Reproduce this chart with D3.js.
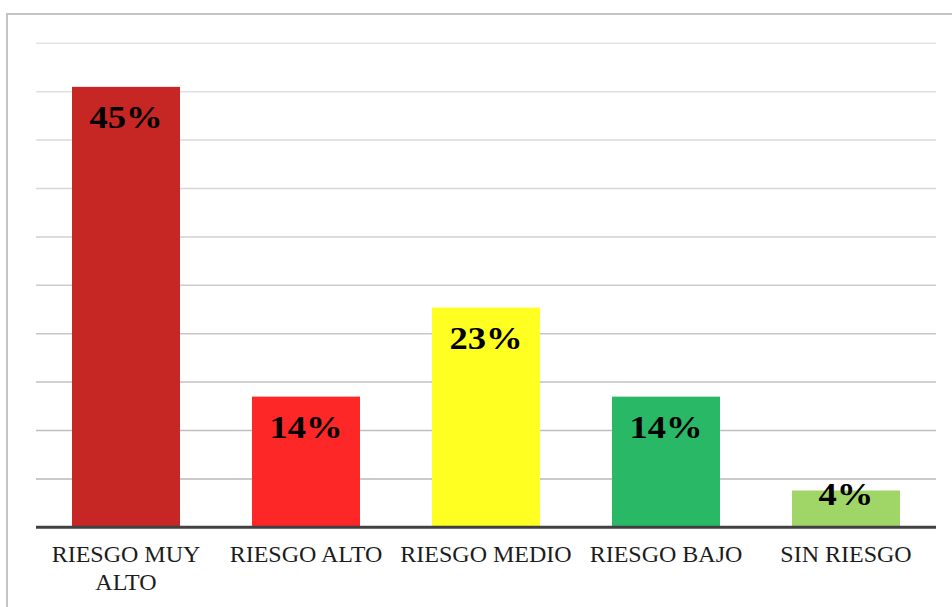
<!DOCTYPE html>
<html lang="es">
<head>
<meta charset="UTF-8" />
<title>Nivel de riesgo</title>
<style>
  html, body {
    margin: 0;
    padding: 0;
    background: #fff;
    overflow: hidden;
  }
  svg {
    display: block;
    font-family: "Liberation Serif", "Times New Roman", serif;
  }
  .grid line {
    stroke-width: 1.5px;
  }
  .cat text {
    font-size: 24px;
    fill: #1c1c1c;
  }
  .val {
    font-size: 31px;
    font-weight: bold;
    fill: #000;
  }
</style>
</head>
<body>
<svg width="952" height="607"></svg>

<script src="https://d3js.org/d3.v7.min.js"></script>
<script>
// chart data
const categories = ["RIESGO MUY ALTO", "RIESGO ALTO", "RIESGO MEDIO", "RIESGO BAJO", "SIN RIESGO"];
const values = [45.5, 13.5, 22.7, 13.5, 3.8];
const valueLabels = ["45%", "14%", "23%", "14%", "4%"];
const barColors = ["#c62624", "#fe2727", "#ffff21", "#29b866", "#a0d568"];
const gridTicks = [0, 5, 10, 15, 20, 25, 30, 35, 40, 45, 50];

// the category text is wrapped by hand like the original
const catLines = {
  "RIESGO MUY ALTO": ["RIESGO MUY", "ALTO"]
};

const svg = d3.select("svg");
const W = 952, H = 607;
const plot = { left: 36, right: 936, top: 43.3, bottom: 527.3 };

// outer frame, runs off the right and bottom edge
svg.append("rect")
  .attr("x", 7)
  .attr("y", 14)
  .attr("width", W + 20)
  .attr("height", H + 20)
  .attr("fill", "#fff")
  .attr("stroke", "#c4c4c4")
  .attr("stroke-width", 2);

const x = d3.scaleBand()
  .domain(categories)
  .range([plot.left, plot.right])
  .paddingInner(0.4)
  .paddingOuter(0.2);

const y = d3.scaleLinear()
  .domain([0, 50])
  .range([plot.bottom, plot.top]);

// gridlines get lighter towards the top in the picture
const gridColor = d3.scaleLinear()
  .domain([0, 50])
  .range(["#b4b4b4", "#e4e4e4"]);

svg.append("g")
  .attr("class", "grid")
  .selectAll("line")
  .data(gridTicks.filter(t => t > 0))
  .join("line")
  .attr("x1", plot.left)
  .attr("x2", plot.right)
  .attr("y1", d => y(d))
  .attr("y2", d => y(d))
  .attr("stroke", d => gridColor(d));

svg.append("g")
  .selectAll("rect")
  .data(categories)
  .join("rect")
  .attr("x", d => x(d))
  .attr("width", x.bandwidth())
  .attr("y", (d, i) => y(values[i]))
  .attr("height", (d, i) => y(0) - y(values[i]))
  .attr("fill", (d, i) => barColors[i]);

// baseline
svg.append("line")
  .attr("x1", plot.left)
  .attr("x2", plot.right)
  .attr("y1", y(0))
  .attr("y2", y(0))
  .attr("stroke", "#404040")
  .attr("stroke-width", 3);

// value labels, inside the top of each bar (short bars push it up)
// the original picture is a bit stretched sideways, so the labels are too
svg.append("g")
  .selectAll("text")
  .data(categories)
  .join("text")
  .attr("class", "val")
  .attr("text-anchor", "middle")
  .attr("transform", (d, i) => {
    const cx = x(d) + x.bandwidth() / 2;
    const ty = Math.min(y(values[i]) + 41, y(0) - 22);
    return `translate(${cx},${ty}) scale(1.18,1)`;
  })
  .text((d, i) => valueLabels[i]);

// category axis
const cat = svg.append("g").attr("class", "cat");
categories.forEach(c => {
  const lines = catLines[c] || [c];
  const t = cat.append("text")
    .attr("text-anchor", "middle")
    .attr("x", x(c) + x.bandwidth() / 2)
    .attr("y", 561.5);
  lines.forEach((ln, k) => {
    t.append("tspan")
      .attr("x", x(c) + x.bandwidth() / 2)
      .attr("dy", k === 0 ? 0 : 28)
      .text(ln);
  });
});
</script>
</body>
</html>
